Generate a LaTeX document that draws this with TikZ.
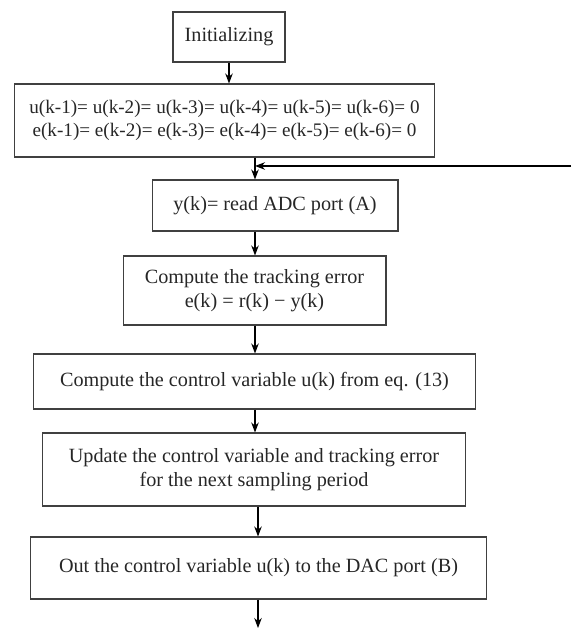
\documentclass[tikz,border=0pt]{standalone}
\usepackage{fontspec}
\setmainfont{Liberation Serif}
\usepackage{tikz}
\usetikzlibrary{arrows.meta}

\begin{document}
\begin{tikzpicture}[
  x=0.02cm, y=-0.02cm,
  box/.style={draw=black!75, align=center, inner sep=2pt,
              font=\fontsize{11.5}{13.5}\selectfont, text=black!85},
  >=Stealth, semithick
]
  \useasboundingbox (0,0) rectangle (571,628);
  \coordinate (spine) at (255,0);
  \node[box, minimum width=2.24cm, minimum height=1.0cm]  (init)   at (229,   37)   {Initializing};
  \node[box, minimum width=8.42cm, minimum height=1.46cm,
        font=\fontsize{10.9}{13}\selectfont]             (zero)   at (224.5, 120.5) {u(k-1)= u(k-2)= u(k-3)= u(k-4)= u(k-5)= u(k-6)= 0\\e(k-1)= e(k-2)= e(k-3)= e(k-4)= e(k-5)= e(k-6)= 0};
  \node[box, minimum width=4.92cm, minimum height=1.02cm] (read)   at (275,   205.5) {y(k)= read ADC port (A)};
  \node[box, minimum width=5.26cm, minimum height=1.38cm] (track)  at (254.5, 290.5) {Compute the tracking error\\e(k) = r(k) − y(k)};
  \node[box, minimum width=8.86cm, minimum height=1.1cm]  (ctrl)   at (254.5, 381.5) {Compute the control variable u(k) from eq. (13)};
  \node[box, minimum width=8.48cm, minimum height=1.46cm] (update) at (254,   469.5) {Update the control variable and tracking error\\for the next sampling period};
  \node[box, minimum width=9.14cm, minimum height=1.24cm] (out)    at (258.5, 568)   {Out the control variable u(k) to the DAC port (B)};
  \coordinate (back) at (571,166);
  \coordinate (tail) at (258,628);
  \draw[->] (init.south) -- (init.south |- zero.north);
  \draw[->] (zero.south -| spine) -- (read.north -| spine);
  \draw[->] (back) -- (back -| spine);
  \draw[->] (read.south -| spine) -- (track.north -| spine);
  \draw[->] (track.south -| spine) -- (ctrl.north -| spine);
  \draw[->] (ctrl.south -| spine) -- (update.north -| spine);
  \draw[->] (update.south -| tail) -- (out.north -| tail);
  \draw[->] (out.south -| tail) -- (tail);
\end{tikzpicture}
\end{document}
